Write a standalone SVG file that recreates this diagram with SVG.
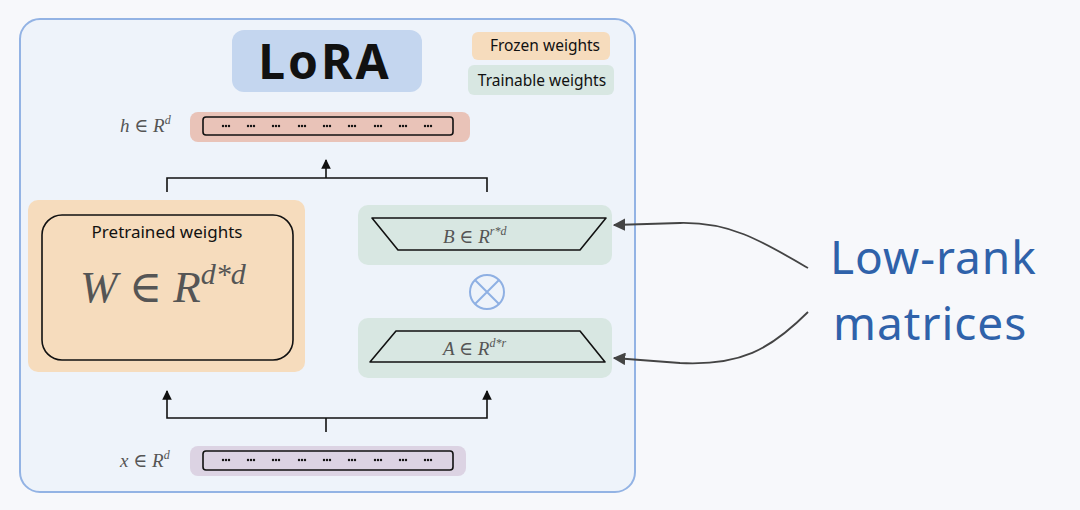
<svg xmlns="http://www.w3.org/2000/svg" width="1080" height="510" viewBox="0 0 1080 510">
<defs>
<marker id="ah" viewBox="0 0 10 10" refX="9" refY="5" markerWidth="6" markerHeight="6" orient="auto-start-reverse"><path d="M0,0 L10,5 L0,10 z" fill="#111"/></marker>
<marker id="ah2" viewBox="0 0 10 10" refX="9" refY="5" markerWidth="7" markerHeight="7" orient="auto"><path d="M0,0 L10,5 L0,10 z" fill="#444"/></marker>
<g id="dot3"><circle cx="-3" cy="0" r="1.2" fill="#111"/><circle cx="0" cy="0" r="1.2" fill="#111"/><circle cx="3" cy="0" r="1.2" fill="#111"/></g>
<g id="dotrow">
<use href="#dot3" x="0"/><use href="#dot3" x="25"/><use href="#dot3" x="50"/><use href="#dot3" x="76"/><use href="#dot3" x="101"/><use href="#dot3" x="126"/><use href="#dot3" x="152"/><use href="#dot3" x="177"/><use href="#dot3" x="202"/>
</g>
<style>
.hand{font-family:"Comic Sans MS","Noto Sans",sans-serif;}
.math{font-family:"Liberation Serif",serif;font-style:italic;fill:#555;}
.up{font-style:normal;font-family:"DejaVu Serif",serif;}
.conn{fill:none;stroke:#111;stroke-width:1.6;}
.box{fill:none;stroke:#111;stroke-width:1.6;}
.frozen{fill:#f6dcbd;}
.train{fill:#d8e7e2;}
</style>
</defs>
<rect width="1080" height="510" fill="#f7f8fb"/>
<rect x="20" y="19" width="615" height="473" rx="20" fill="#eef3fa" stroke="#93b3e4" stroke-width="2"/>

<g id="title">
<rect x="232" y="30" width="190" height="62" rx="12" fill="#c4d6ef"/>
<text x="325" y="79" text-anchor="middle" class="hand" font-size="48" font-weight="bold" fill="#111" letter-spacing="3">LoRA</text>
</g>

<g id="legend-frozen">
<rect x="472" y="32" width="138" height="28" rx="6" class="frozen"/>
<text x="545" y="51" text-anchor="middle" class="hand" font-size="15.5" fill="#111">Frozen weights</text>
</g>
<g id="legend-trainable">
<rect x="468" y="65" width="146" height="30" rx="6" class="train"/>
<text x="542" y="86" text-anchor="middle" class="hand" font-size="15.5" fill="#111">Trainable weights</text>
</g>

<g id="h-vector">
<text x="120" y="132" class="math" font-size="19">h <tspan class="up">∈</tspan> R<tspan dy="-8" font-size="12">d</tspan></text>
<rect x="190" y="112" width="280" height="30" rx="8" fill="#e9c3b8"/>
<rect x="203" y="117" width="250" height="18" rx="3" class="box"/>
<use href="#dotrow" x="226" y="126"/>
</g>

<g id="pretrained">
<rect x="28" y="200" width="277" height="172" rx="10" class="frozen"/>
<rect x="42" y="215" width="251" height="145" rx="20" class="box"/>
<text x="167" y="238" text-anchor="middle" class="hand" font-size="17" fill="#111">Pretrained weights</text>
<text x="80" y="302" class="math" font-size="45">W <tspan class="up">∈</tspan> R<tspan dy="-18" font-size="30">d*d</tspan></text>
</g>

<g id="B-matrix">
<rect x="358" y="205" width="254" height="60" rx="10" class="train"/>
<path d="M372,218 L606,218 L580,250 L398,250 Z" class="box" stroke-linejoin="round"/>
<text x="443" y="243" class="math" font-size="19">B <tspan class="up">∈</tspan> R<tspan dy="-8" font-size="12">r*d</tspan></text>
</g>

<g id="product">
<circle cx="487" cy="292" r="17" fill="none" stroke="#8fb0e3" stroke-width="2"/>
<path d="M475,280 L499,304 M499,280 L475,304" stroke="#8fb0e3" stroke-width="2"/>
</g>

<g id="A-matrix">
<rect x="358" y="318" width="254" height="60" rx="10" class="train"/>
<path d="M396,331 L580,331 L605,362 L370,362 Z" class="box" stroke-linejoin="round"/>
<text x="443" y="355" class="math" font-size="19">A <tspan class="up">∈</tspan> R<tspan dy="-8" font-size="12">d*r</tspan></text>
</g>

<g id="x-vector">
<text x="120" y="467" class="math" font-size="19">x <tspan class="up">∈</tspan> R<tspan dy="-8" font-size="12">d</tspan></text>
<rect x="190" y="446" width="276" height="30" rx="8" fill="#dcd3e3"/>
<rect x="203" y="451" width="250" height="19" rx="3" class="box"/>
<use href="#dotrow" x="226" y="460"/>
</g>

<g id="label-lowrank">
<text x="830" y="274" class="hand" font-size="46" fill="#2f62aa" letter-spacing="1">Low-rank</text>
<text x="833" y="340" class="hand" font-size="46" fill="#2f62aa" letter-spacing="1">matrices</text>
</g>

<g id="connectors">
<path d="M167,192 L167,178 L487,178 L487,192" class="conn"/>
<path d="M326,178 L326,160" class="conn" marker-end="url(#ah)"/>
<path d="M326,432 L326,418" class="conn"/>
<path d="M167,391 L167,418 L487,418 L487,391" class="conn" marker-start="url(#ah)" marker-end="url(#ah)"/>
<path d="M808,268 C760,240 730,222 680,223 L614,225" fill="none" stroke="#444" stroke-width="1.8" marker-end="url(#ah2)"/>
<path d="M808,312 C770,350 740,366 680,363 L614,358" fill="none" stroke="#444" stroke-width="1.8" marker-end="url(#ah2)"/>
</g>
</svg>
